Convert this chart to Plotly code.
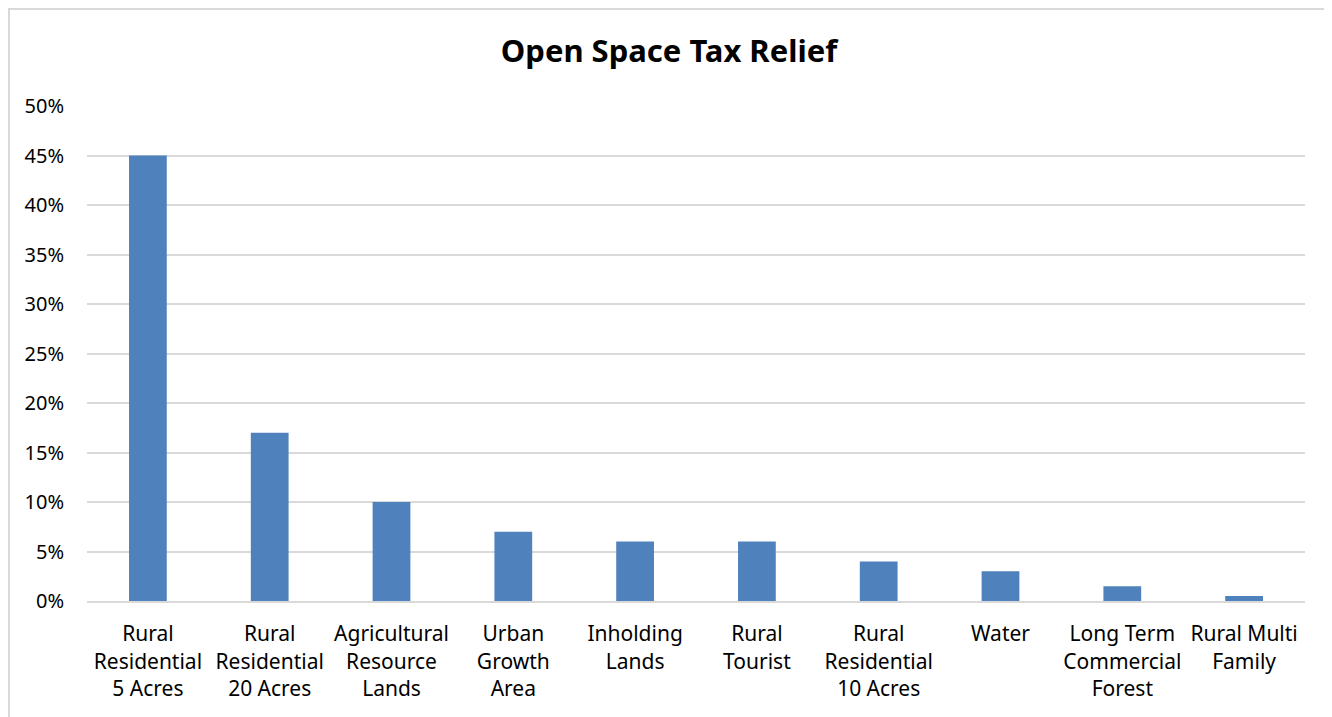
import plotly.graph_objects as go

categories = ["Rural<br>Residential<br>5 Acres", "Rural<br>Residential<br>20 Acres",
              "Agricultural<br>Resource<br>Lands", "Urban<br>Growth<br>Area",
              "Inholding<br>Lands", "Rural<br>Tourist", "Rural<br>Residential<br>10 Acres",
              "Water", "Long Term<br>Commercial<br>Forest", "Rural Multi<br>Family"]
values = [45, 17, 10, 7, 6, 6, 4, 3, 1.5, 0.5]
y_ticks = [0, 5, 10, 15, 20, 25, 30, 35, 40, 45, 50]
y_ticktext = [f"{v}%" for v in y_ticks]

OFF = 8  # page body margin
W, H = 1332 - OFF, 717 - OFF
L, R, T, B = 87 - OFF, 27, 106 - OFF, 116
pw, ph = W - L - R, H - T - B

fig = go.Figure(go.Bar(x=list(range(len(categories))), y=values,
                       marker=dict(color="#4F81BD", line=dict(width=0))))

fig.update_layout(
    width=W, height=H,
    margin=dict(l=L, r=R, t=T, b=B, autoexpand=False),
    paper_bgcolor="white", plot_bgcolor="white",
    bargap=0.69,
    showlegend=False,
    font=dict(family="Noto Sans, Open Sans, sans-serif", color="#000000", size=20),
    title=dict(text="<b>Open Space Tax Relief</b>", x=(669 - OFF) / W, xanchor="center",
               y=1 - (51 - OFF) / H, yanchor="middle", font=dict(size=31, color="#000000")),
    xaxis=dict(tickmode="array", tickvals=list(range(len(categories))), ticktext=categories,
               range=[-0.5, len(categories) - 0.5], showgrid=False, zeroline=False,
               showline=True, linecolor="#d9d9d9", linewidth=2, ticks="",
               tickangle=0, ticklabelstandoff=13, tickfont=dict(size=21)),
    yaxis=dict(range=[0, 50], tickmode="array", tickvals=y_ticks, ticktext=y_ticktext,
               showgrid=True, gridcolor="#d9d9d9", gridwidth=1.5, zeroline=False,
               showline=False, ticks="", ticklabelstandoff=22, tickfont=dict(size=20)),
    shapes=[dict(type="rect", xref="paper", yref="paper",
                 x0=(1 - L) / pw, x1=(W + 20 - L) / pw,
                 y0=(H - B - (H + 20)) / ph, y1=(H - B - 1) / ph,
                 line=dict(color="#d9d9d9", width=2), fillcolor="rgba(0,0,0,0)", layer="below")],
)

fig.write_html("out.html")
